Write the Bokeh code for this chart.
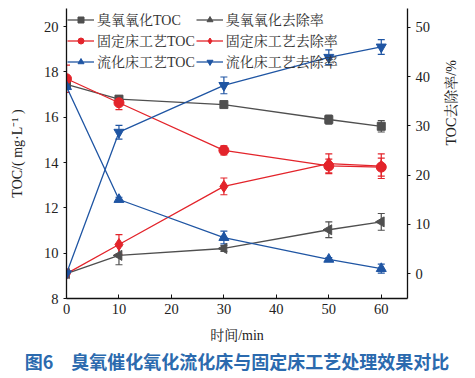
from bokeh.plotting import figure
from bokeh.models import Range1d, LinearAxis, Title, Legend, LegendItem, Whisker, ColumnDataSource, FixedTicker
from bokeh.embed import file_html
from bokeh.resources import INLINE

t = [0, 10, 30, 50, 60]

ozone_toc = [17.45, 16.8, 16.56, 15.9, 15.6]
ozone_toc_err = [0.1, 0.15, 0.1, 0.2, 0.25]
ozone_rate = [0, 3.7, 5.1, 8.9, 10.5]
ozone_rate_err = [0.3, 1.9, 0.6, 1.6, 1.7]

fixed_toc = [17.7, 16.64, 14.54, 13.85, 13.8]
fixed_toc_err = [0.6, 0.3, 0.2, 0.3, 0.4]
fixed_rate = [0, 5.9, 17.7, 22.3, 21.8]
fixed_rate_err = [0.3, 2.0, 1.7, 2.0, 2.5]

fluid_toc = [17.35, 12.37, 10.69, 9.73, 9.32]
fluid_toc_err = [0.1, 0.1, 0.28, 0.08, 0.2]
fluid_rate = [0, 28.7, 38.2, 43.9, 46.0]
fluid_rate_err = [0.3, 1.4, 1.7, 1.5, 1.5]

names = ["臭氧氧化TOC", "臭氧氧化去除率", "固定床工艺TOC", "固定床工艺去除率", "流化床工艺TOC", "流化床工艺去除率"]
x_ticks = [0, 10, 20, 30, 40, 50, 60]
left_ticks = [8, 10, 12, 14, 16, 18, 20]
right_ticks = [0, 10, 20, 30, 40, 50]
x_title = "时间/min"
left_title = "TOC/( mg·L⁻¹ )"
right_title = "TOC去除率/%"
caption = "图6　臭氧催化氧化流化床与固定床工艺处理效果对比"

GRAY = "#4f4f4f"
RED = "#e3242b"
BLUE = "#1f55a3"
FONT = "Liberation Serif, Noto Serif CJK SC, Noto Sans CJK SC, serif"

p = figure(width=475, height=378, output_backend="svg", toolbar_location=None,
           x_range=Range1d(0, 65), y_range=Range1d(8, 20.8),
           min_border_left=66, min_border_right=68, min_border_top=8, min_border_bottom=80)
p.extra_y_ranges = {"rate": Range1d(-5.05, 53.8)}
p.grid.visible = False
p.outline_line_color = None
p.background_fill_color = "white"

ax_right = LinearAxis(y_range_name="rate")
p.add_layout(ax_right, "right")

for ax in [p.xaxis[0], p.yaxis[0], ax_right]:
    ax.major_label_text_font = FONT
    ax.major_label_text_font_size = "14.5px"
    ax.major_label_text_color = "#222222"
    ax.axis_label_text_font = FONT
    ax.axis_label_text_font_size = "14px"
    ax.axis_label_text_font_style = "normal"
    ax.axis_label_text_color = "#222222"
    ax.axis_line_color = "#111111"
    ax.axis_line_width = 1.3
    ax.major_tick_line_color = "#111111"
    ax.minor_tick_line_color = None

p.xaxis[0].ticker = FixedTicker(ticks=x_ticks)
p.xaxis[0].major_tick_in = 4
p.xaxis[0].major_tick_out = 0
p.xaxis[0].axis_label = x_title
p.xaxis[0].axis_label_standoff = 11
p.yaxis[0].ticker = FixedTicker(ticks=left_ticks)
p.yaxis[0].major_tick_in = 0
p.yaxis[0].major_tick_out = 3
p.yaxis[0].axis_label = left_title
p.yaxis[0].axis_label_standoff = 16
ax_right.ticker = FixedTicker(ticks=right_ticks)
ax_right.major_tick_in = 0
ax_right.major_tick_out = 3

# right-hand title reading bottom-to-top: a bare axis whose single tick label is the title
title_axis = LinearAxis(y_range_name="rate", ticker=FixedTicker(ticks=[26]),
                        major_label_overrides={26: right_title},
                        major_label_orientation=1.5708,
                        major_label_text_font=FONT, major_label_text_font_size="14px",
                        major_label_text_color="#222222", major_label_standoff=12,
                        axis_line_color=None, major_tick_line_color=None,
                        minor_tick_line_color=None)
p.add_layout(title_axis, "right")

series = [
    (ozone_toc, ozone_toc_err, "default", GRAY, "square"),
    (ozone_rate, ozone_rate_err, "rate", GRAY, "triangle"),
    (fixed_toc, fixed_toc_err, "default", RED, "circle"),
    (fixed_rate, fixed_rate_err, "rate", RED, "diamond"),
    (fluid_toc, fluid_toc_err, "default", BLUE, "triangle"),
    (fluid_rate, fluid_rate_err, "rate", BLUE, "inverted_triangle"),
]

renderers = []
for vals, errs, rng, col, mk in series:
    src = ColumnDataSource(dict(x=t, y=vals,
                                lo=[v - e for v, e in zip(vals, errs)],
                                hi=[v + e for v, e in zip(vals, errs)]))
    w = Whisker(base="x", lower="lo", upper="hi", source=src, y_range_name=rng,
                line_color=col, line_width=1.2)
    w.upper_head.size = 7
    w.lower_head.size = 7
    w.upper_head.line_color = col
    w.lower_head.line_color = col
    w.upper_head.line_width = 1.2
    w.lower_head.line_width = 1.2
    p.add_layout(w)
    ln = p.line("x", "y", source=src, y_range_name=rng, line_color=col, line_width=1.3)
    size = 10
    angle = 0
    if mk == "triangle" and col == GRAY:
        angle = 1.5708
    if mk == "diamond":
        size = 12
    if mk == "square":
        size = 8
    sc = p.scatter("x", "y", source=src, y_range_name=rng, marker=mk, size=size,
                   angle=angle, fill_color=col, line_color=col)
    renderers.append((ln, sc))

order = [0, 2, 4, 1, 3, 5]
items = [LegendItem(label=names[i], renderers=[renderers[i][0], renderers[i][1]]) for i in order]
legend = Legend(items=items, location="top_left", ncols=2, orientation="vertical",
                background_fill_alpha=0, border_line_color=None,
                label_text_font=FONT, label_text_font_size="14px",
                label_text_color="#333333", glyph_width=27, glyph_height=15,
                label_standoff=3, spacing=1, padding=1, margin=1, label_height=15)
p.add_layout(legend, "center")

cap = Title(text=caption, align="center",
            text_font="Noto Sans CJK SC", text_font_size="18px", text_font_style="bold",
            text_color="#2b6aae", standoff=0)
p.add_layout(cap, "below")

open("out.html", "w").write(file_html(p, INLINE))
